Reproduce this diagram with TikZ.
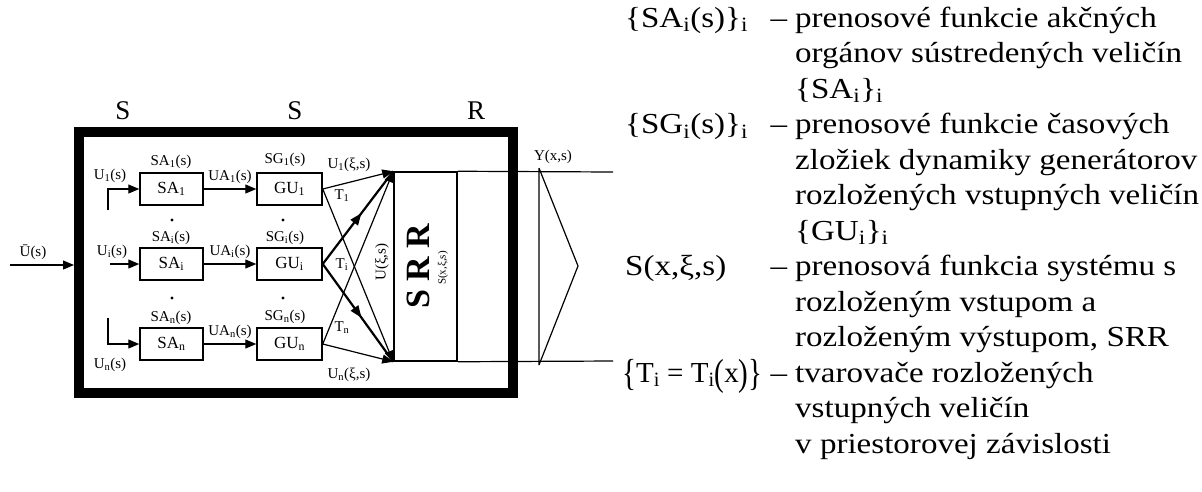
\documentclass[tikz,border=0pt]{standalone}
\usepackage{fontspec}
\setmainfont{Liberation Serif}
\newfontfamily\sirokyfont{Liberation Serif}[FakeStretch=1.14]
\usetikzlibrary{arrows.meta,decorations.markings}

\newcommand{\vysoka}[1]{\raisebox{-0.12em}{\scalebox{1}[1.3]{#1}}}

\tikzset{
    blok/.style={draw, line width=1.5pt, minimum width=63pt, minimum height=32pt, inner sep=0pt, font=\fontsize{17}{17}\selectfont},
    popis/.style={inner sep=0pt, font=\fontsize{15}{15}\selectfont},
    hlavicka/.style={inner sep=0pt, font=\fontsize{27}{27}\selectfont},
    sipka/.style={-{Triangle[length=11pt,width=9pt]}, line width=1.2pt},
    tenka/.style={line width=1.2pt},
    stred/.style={line width=2.2pt, postaction={decorate}, decoration={markings, mark=at position 0.55 with {\arrow{Triangle[length=12pt,width=9pt]}}}},
    riadok/.style={anchor=west, inner sep=0pt, text height=21pt, text depth=7pt, font=\sirokyfont\fontsize{29}{29}\selectfont},
    pomlcka/.style={inner sep=0pt, text height=21pt, text depth=7pt, font=\sirokyfont\fontsize{29}{29}\selectfont},
    bodka/.style={circle, fill, inner sep=1.2pt}
}

\begin{document}
\begin{tikzpicture}[x=1pt,y=-1pt]
    \useasboundingbox (0,0) rectangle (1202,491);
    \path node[draw, line width=10pt, minimum width=434pt, minimum height=261pt, inner sep=0pt] (SYS) at (296,262.5) {}
        node[hlavicka] (H1) at (123,111) {S}
        node[hlavicka] (H2) at (295,111) {S}
        node[hlavicka] (H3) at (476,111) {R}
        node[blok] (SA1) at (171.5,189) {SA\textsubscript{1}}
        node[blok] (SAi) at (171.5,264) {SA\textsubscript{i}}
        node[blok] (SAn) at (171.5,344) {SA\textsubscript{n}}
        node[blok, minimum width=65pt] (GU1) at (289.5,189) {GU\textsubscript{1}}
        node[blok, minimum width=65pt] (GUi) at (289.5,264) {GU\textsubscript{i}}
        node[blok, minimum width=65pt] (GUn) at (289.5,344) {GU\textsubscript{n}}
        node[draw, line width=1.5pt, minimum width=63pt, minimum height=189pt, inner sep=0pt] (SRR) at (425.5,266.5) {};
    \path node[popis] (LU) at (33,252) {Ū(s)}
        node[popis] (LU1) at (110,176) {U\textsubscript{1}(s)}
        node[popis] (LUi) at (112,252) {U\textsubscript{i}(s)}
        node[popis] (LUn) at (110,365) {U\textsubscript{n}(s)}
        node[popis] (LSA1) at (171,162) {SA\textsubscript{1}(s)}
        node[popis] (LSAi) at (171,238) {SA\textsubscript{i}(s)}
        node[popis] (LSAn) at (171,318) {SA\textsubscript{n}(s)}
        node[popis] (LSG1) at (285,160) {SG\textsubscript{1}(s)}
        node[popis] (LSGi) at (285,238) {SG\textsubscript{i}(s)}
        node[popis] (LSGn) at (285,317) {SG\textsubscript{n}(s)}
        node[popis] (LUA1) at (230,177) {UA\textsubscript{1}(s)}
        node[popis] (LUAi) at (230,252) {UA\textsubscript{i}(s)}
        node[popis] (LUAn) at (230,332) {UA\textsubscript{n}(s)}
        node[bodka] (D1) at (172,220) {}
        node[bodka] (D2) at (172,298) {}
        node[bodka] (D3) at (283,220) {}
        node[bodka] (D4) at (283,298) {}
        node[popis] (LT1) at (342,196) {T\textsubscript{1}}
        node[popis] (LTi) at (342,265) {T\textsubscript{i}}
        node[popis] (LTn) at (342,328) {T\textsubscript{n}}
        node[popis] (LUx1) at (349,165) {U\textsubscript{1}(ξ,s)}
        node[popis] (LUxn) at (349,375) {U\textsubscript{n}(ξ,s)}
        node[popis, rotate=90] (LUx) at (382,262) {U(ξ,s)}
        node[inner sep=0pt, rotate=90, font=\fontsize{34}{34}\selectfont\bfseries] (LSRR) at (418,266) {S R R}
        node[inner sep=0pt, rotate=90, font=\fontsize{11}{11}\selectfont] (LS) at (443,268) {S(x,ξ,s)}
        node[popis] (LY) at (553,157) {Y(x,s)};
    \coordinate (Uin) at (10,265);
    \coordinate (U1z) at (108,210);
    \coordinate (Uiz) at (110,264);
    \coordinate (Unz) at (108,318);
    \coordinate (Rh) at (613,172);
    \coordinate (Rd) at (613,361);
    \coordinate (Yh) at (539,168);
    \coordinate (Yd) at (539,365);
    \coordinate (Yv) at (578,266);
        \draw[sipka] (Uin) -- (Uin -| SYS.west);
        \draw[sipka] (U1z) |- (SA1);
        \draw[sipka] (Uiz) -- (SAi);
        \draw[sipka] (Unz) |- (SAn);
        \draw[sipka] (SA1) -- (GU1);
        \draw[sipka] (SAi) -- (GUi);
        \draw[sipka] (SAn) -- (GUn);
        \draw[sipka] (GU1.east) -- (SRR.north west);
        \draw[sipka] (GU1.east) -- (SRR.south west);
        \draw[stred] (GUi.east) -- (SRR.north west);
        \draw[stred] (GUi.east) -- (SRR.south west);
        \draw[sipka] (GUn.east) -- (SRR.north west);
        \draw[sipka] (GUn.east) -- (SRR.south west);
        \draw[tenka] (SRR.north east) -- (Rh);
        \draw[tenka] (SRR.south east) -- (Rd);
        \draw[tenka] (Yh) -- (Yd) (Yh) -- (Yv) -- (Yd);
    \path node[riadok] (K1) at (625,20) {\{SA\textsubscript{i}(s)\}\textsubscript{i}}
        node[pomlcka] (P1) at (779,20) {–}
        node[riadok] (T1) at (795,20) {prenosové funkcie akčných}
        node[riadok] (T2) at (795,55.5) {orgánov sústredených veličín}
        node[riadok] (T3) at (795,91) {\{SA\textsubscript{i}\}\textsubscript{i}}
        node[riadok] (K4) at (625,126.5) {\{SG\textsubscript{i}(s)\}\textsubscript{i}}
        node[pomlcka] (P4) at (779,126.5) {–}
        node[riadok] (T4) at (795,126.5) {prenosové funkcie časových}
        node[riadok] (T5) at (795,162) {zložiek dynamiky generátorov}
        node[riadok] (T6) at (795,197.5) {rozložených vstupných veličín}
        node[riadok] (T7) at (795,233) {\{GU\textsubscript{i}\}\textsubscript{i}}
        node[riadok] (K8) at (625,268.5) {S(x,ξ,s)}
        node[pomlcka] (P8) at (779,268.5) {–}
        node[riadok] (T8) at (795,268.5) {prenosová funkcia systému s}
        node[riadok] (T9) at (795,304) {rozloženým vstupom a}
        node[riadok] (T10) at (795,339.5) {rozloženým výstupom, SRR}
        node[riadok, font=\fontsize{29}{29}\selectfont] (K11) at (622,375) {\vysoka{\{}T\textsubscript{i} = T\textsubscript{i}\vysoka{(}x\vysoka{)}\vysoka{\}}}
        node[pomlcka] (P11) at (779,375) {–}
        node[riadok] (T11) at (795,375) {tvarovače rozložených}
        node[riadok] (T12) at (795,410.5) {vstupných veličín}
        node[riadok] (T13) at (795,446) {v priestorovej závislosti};
\end{tikzpicture}
\end{document}
